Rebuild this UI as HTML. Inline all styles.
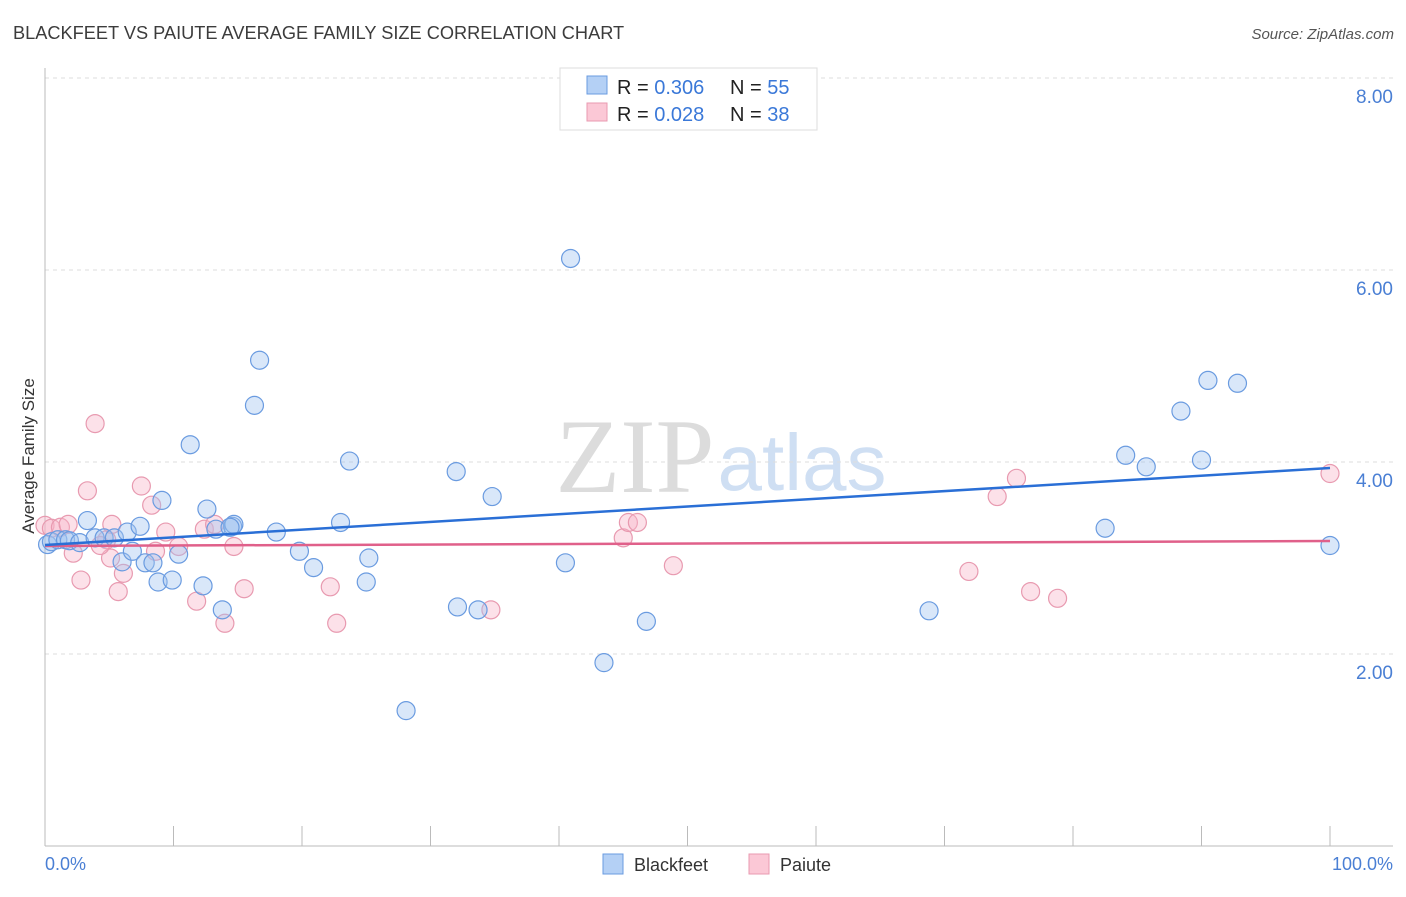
<!DOCTYPE html>
<html><head><meta charset="utf-8"><style>
body{margin:0;background:#fff;font-family:"Liberation Sans",sans-serif}
svg text{font-family:"Liberation Sans",sans-serif}
</style></head><body>
<svg id="c" width="1406" height="892" xmlns="http://www.w3.org/2000/svg">
<text x="13" y="39" font-size="18.2" fill="#3c3c3c">BLACKFEET VS PAIUTE AVERAGE FAMILY SIZE CORRELATION CHART</text>
<text x="1394" y="39" font-size="15" fill="#555" font-style="italic" text-anchor="end">Source: ZipAtlas.com</text>
<text x="635" y="492" font-size="106" fill="#dcdcdc" text-anchor="middle" style="font-family:'Liberation Serif',serif">ZIP</text>
<text x="802" y="490" font-size="80" fill="#cfdff3" text-anchor="middle">atlas</text>
<g id="grid"></g>
<line x1="45" y1="68" x2="45" y2="846" stroke="#bbb"/>
<line x1="45" y1="846" x2="1393" y2="846" stroke="#bbb"/>
<text transform="translate(34,456) rotate(-90)" font-size="17" fill="#333" text-anchor="middle">Average Family Size</text>
<text x="45" y="870" font-size="18" fill="#4a7fd4">0.0%</text>
<text x="1393" y="870" font-size="18" fill="#4a7fd4" text-anchor="end">100.0%</text>
<g id="marks"></g>
<g>
<rect x="560" y="68" width="257" height="62" fill="#fff" stroke="#ddd"/>
<rect x="587" y="76" width="20" height="18" fill="#b4d0f5" stroke="#6a9be0"/>
<text x="617" y="94" font-size="20" fill="#222">R = <tspan fill="#3a78d8">0.306</tspan></text>
<text x="730" y="94" font-size="20" fill="#222">N = <tspan fill="#3a78d8">55</tspan></text>
<rect x="587" y="103" width="20" height="18" fill="#fbc8d6" stroke="#e89ab0"/>
<text x="617" y="121" font-size="20" fill="#222">R = <tspan fill="#3a78d8">0.028</tspan></text>
<text x="730" y="121" font-size="20" fill="#222">N = <tspan fill="#3a78d8">38</tspan></text>
</g>
<g>
<rect x="603" y="854" width="20" height="20" fill="#b4d0f5" stroke="#6a9be0"/>
<text x="634" y="871" font-size="18" fill="#333">Blackfeet</text>
<rect x="749" y="854" width="20" height="20" fill="#fbc8d6" stroke="#e89ab0"/>
<text x="780" y="871" font-size="18" fill="#333">Paiute</text>
</g>
</svg>
<script>
const yTicks=[2,4,6,8];
const yTickLabels=["2.00","4.00","6.00","8.00"];
const xTicks=[0,10,20,30,40,50,60,70,80,90,100];
const blackX=[0.2,0.5,1.0,1.6,1.9,2.7,3.3,3.9,4.6,5.4,6.0,6.4,6.8,7.4,7.8,8.4,8.8,9.1,9.9,10.4,11.3,12.3,12.6,13.3,13.8,14.6,14.7,16.3,16.7,18.0,19.8,20.9,23.0,23.7,25.0,25.2,28.1,32.0,32.1,33.7,34.8,40.5,40.9,43.5,46.8,68.8,82.5,84.1,85.7,88.4,90.0,90.5,92.8,100,14.4];
const blackY=[3.14,3.17,3.19,3.19,3.18,3.16,3.39,3.21,3.21,3.21,2.96,3.27,3.07,3.33,2.95,2.95,2.75,3.60,2.77,3.04,4.18,2.71,3.51,3.30,2.46,3.33,3.35,4.59,5.06,3.27,3.07,2.90,3.37,4.01,2.75,3.00,1.41,3.90,2.49,2.46,3.64,2.95,6.12,1.91,2.34,2.45,3.31,4.07,3.95,4.53,4.02,4.85,4.82,3.13,3.32];
const paiuteX=[0,0.5,1.2,1.8,2.2,2.8,3.3,3.9,4.8,5.1,5.2,5.7,6.1,7.5,8.3,8.6,9.4,10.4,11.8,12.4,13.2,14.0,14.7,15.5,22.2,22.7,34.7,45.0,45.4,46.1,48.9,71.9,74.1,75.6,76.7,78.8,100,4.3];
const paiuteY=[3.34,3.31,3.32,3.35,3.05,2.77,3.70,4.40,3.19,3.00,3.35,2.65,2.84,3.75,3.55,3.07,3.27,3.12,2.55,3.30,3.35,2.32,3.12,2.68,2.70,2.32,2.46,3.21,3.37,3.37,2.92,2.86,3.64,3.83,2.65,2.58,3.88,3.13];
const blackTrend=[3.135,3.9375];
const paiuteTrend=[3.125,3.177];
const NS="http://www.w3.org/2000/svg";
const sx=v=>45+v*12.85, sy=v=>846-v*96;
const grid=document.getElementById('grid'), marks=document.getElementById('marks');
function mk(tag,attrs,parent){const e=document.createElementNS(NS,tag);for(const k in attrs)e.setAttribute(k,attrs[k]);parent.appendChild(e);return e;}
yTicks.forEach((t,i)=>{
 const l=mk('line',{x1:45,x2:1393,y1:sy(t),y2:sy(t),stroke:'#ddd','stroke-dasharray':'4,4'},grid);
 
 
 const tx=mk('text',{x:1393,y:sy(t)+25,'font-size':19,fill:'#4a7fd4','text-anchor':'end'},grid);
 tx.textContent=yTickLabels[i];
 
 
});
xTicks.forEach(t=>{
 const l=mk('line',{x1:sx(t),x2:sx(t),y1:826,y2:846,stroke:'#bbb'},grid);
 
 
});
paiuteX.forEach((x,i)=>{
 const c=mk('circle',{cx:sx(x),cy:sy(paiuteY[i]),r:9,fill:'rgba(248,180,200,0.4)',stroke:'#e89ab0','stroke-width':1.2},marks);
 
 
});
blackX.forEach((x,i)=>{
 const c=mk('circle',{cx:sx(x),cy:sy(blackY[i]),r:9,fill:'rgba(160,196,240,0.4)',stroke:'#6a9be0','stroke-width':1.2},marks);
 
 
});
const pl=mk('line',{x1:sx(0),x2:sx(100),y1:sy(paiuteTrend[0]),y2:sy(paiuteTrend[1]),stroke:'#e0608a','stroke-width':2.5},marks);


const bl=mk('line',{x1:sx(0),x2:sx(100),y1:sy(blackTrend[0]),y2:sy(blackTrend[1]),stroke:'#2a6fd6','stroke-width':2.5},marks);


</script>
</body></html>
